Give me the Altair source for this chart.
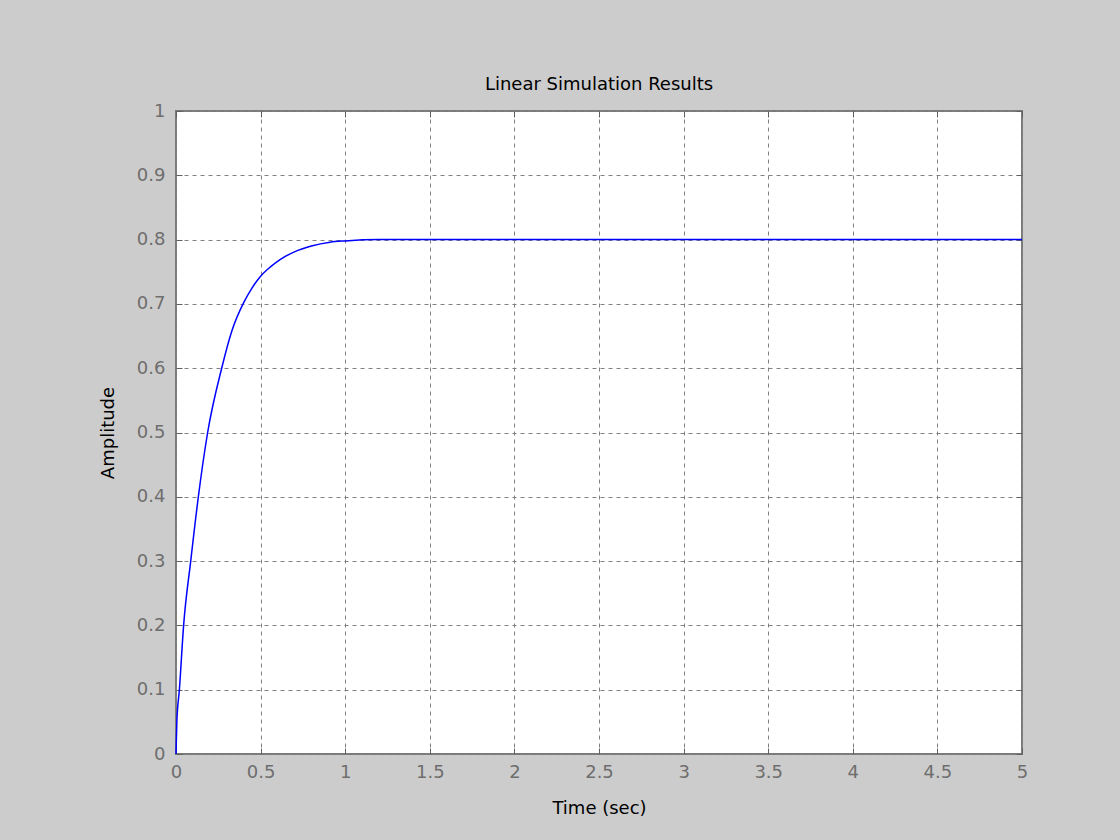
import altair as alt
import pandas as pd

# values
time_s = [0, 0.005, 0.02, 0.045, 0.087, 0.132, 0.187, 0.27, 0.33, 0.4, 0.45, 0.5,
          0.56, 0.615, 0.7, 0.8, 0.91, 1.0, 1.2, 1.5, 2.0, 3.0, 4.0, 5.0]
amplitude = [0, 0.05, 0.1, 0.2, 0.3, 0.4, 0.5, 0.6, 0.658, 0.702, 0.725, 0.743,
             0.758, 0.769, 0.781, 0.79, 0.796, 0.798, 0.8, 0.8, 0.8, 0.8, 0.8, 0.8]
x_ticks = [0, 0.5, 1, 1.5, 2, 2.5, 3, 3.5, 4, 4.5, 5]
y_ticks = [0, 0.1, 0.2, 0.3, 0.4, 0.5, 0.6, 0.7, 0.8, 0.9, 1]

df = pd.DataFrame({"t": time_s, "y": amplitude})

FONT = "DejaVu Sans"
GRID = "#808080"
xs = alt.Scale(domain=[0, 5], nice=False)
ys = alt.Scale(domain=[0, 1], nice=False)

base = alt.Chart(df)

# grid layer
grid = base.mark_line(opacity=0).encode(
    x=alt.X("t:Q", scale=xs, title=None,
            axis=alt.Axis(orient="bottom", values=x_ticks, grid=True, gridDash=[4, 4], gridColor=GRID,
                          gridOpacity=1, gridWidth=1, ticks=False, labels=False, domain=False)),
    y=alt.Y("y:Q", scale=ys, title=None,
            axis=alt.Axis(orient="left", values=y_ticks, grid=True, gridDash=[4, 4], gridColor=GRID,
                          gridOpacity=1, gridWidth=1, ticks=False, labels=False, domain=False)),
)

# labelled axes with inward ticks (bottom / left)
line = base.mark_line(color="#0000ff", strokeWidth=1.5, interpolate="monotone").encode(
    x=alt.X("t:Q", scale=xs, title="Time (sec)",
            axis=alt.Axis(orient="bottom", values=x_ticks, grid=False, offset=-6, tickSize=6,
                          tickColor="#606060", tickWidth=1, domain=False, labelFont=FONT,
                          labelFontSize=18, labelColor="#6e6e6e", labelPadding=9,
                          labelFlush=False, titleFont=FONT, titleFontSize=18,
                          titleFontWeight="normal", titleColor="#000000", titlePadding=18,
                          format="~g")),
    y=alt.Y("y:Q", scale=ys, title="Amplitude",
            axis=alt.Axis(orient="left", values=y_ticks, grid=False, offset=-6, tickSize=6,
                          tickColor="#606060", tickWidth=1, domain=False, labelFont=FONT,
                          labelFontSize=18, labelColor="#6e6e6e", labelPadding=11,
                          labelFlush=False, titleFont=FONT, titleFontSize=18,
                          titleFontWeight="normal", titleColor="#000000", titlePadding=19,
                          format="~g")),
)

# top / right inward ticks
ticks2 = base.mark_line(opacity=0).encode(
    x=alt.X("t:Q", scale=xs, title=None,
            axis=alt.Axis(orient="top", values=x_ticks, grid=False, offset=-6, tickSize=6,
                          tickColor="#606060", labels=False, domain=False)),
    y=alt.Y("y:Q", scale=ys, title=None,
            axis=alt.Axis(orient="right", values=y_ticks, grid=False, offset=-6, tickSize=6,
                          tickColor="#606060", labels=False, domain=False)),
)

chart = alt.layer(grid, line, ticks2).resolve_axis(
    x="independent", y="independent"
).properties(
    width=846, height=643,
    title=alt.TitleParams("Linear Simulation Results", font=FONT, fontSize=18,
                          fontWeight="normal", color="#000000", offset=8, anchor="middle"),
    background="#cccccc",
    padding={"left": 176, "top": 111, "right": 98, "bottom": 86},
    autosize=alt.AutoSizeParams(type="none"),
).configure_view(
    fill="#ffffff", stroke="#7a7a7a", strokeWidth=2
)

chart.save("out.html", embed_options={"renderer": "svg", "actions": False})
